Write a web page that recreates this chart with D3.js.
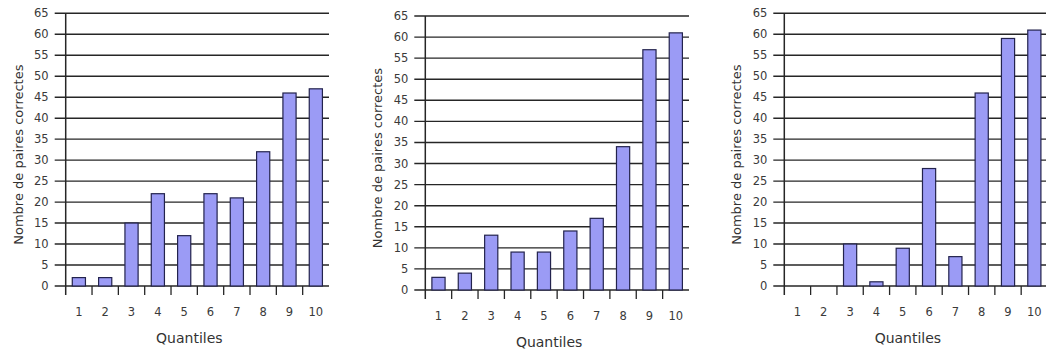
<!DOCTYPE html>
<html>
<head>
<meta charset="utf-8">
<script src="https://cdn.jsdelivr.net/npm/d3@7"></script>
<style>
  html, body { margin: 0; padding: 0; background: #fff; }
  svg { display: block; font-family: "DejaVu Sans", Verdana, sans-serif; }
</style>
</head>
<body>
<svg id="chart" width="1046" height="351"></svg>
<script>
// Quantile categories shared by the three panels
const quantiles = ["1", "2", "3", "4", "5", "6", "7", "8", "9", "10"];
// Number of correct pairs per quantile, one array per panel
const panelA = [2, 2, 15, 22, 12, 22, 21, 32, 46, 47];
const panelB = [3, 4, 13, 9, 9, 14, 17, 34, 57, 61];
const panelC = [0, 0, 10, 1, 9, 28, 7, 46, 59, 61];
// Y axis tick values
const yTicks = [0, 5, 10, 15, 20, 25, 30, 35, 40, 45, 50, 55, 60, 65];

const yLabel = "Nombre de paires correctes";
const xLabel = "Quantiles";

// Frame of each panel: y axis position, right end, top (65) and baseline (0)
const frames = [
  { values: panelA, x0: 65.7, x1: 329, top: 13.3, bottom: 286 },
  { values: panelB, x0: 425.3, x1: 689, top: 16, bottom: 290 },
  { values: panelC, x0: 784.3, x1: 1047.5, top: 13.3, bottom: 286 }
];

const svg = d3.select("#chart");
const gridColor = "#262626";
const barFill = "#9b9bf5";
const barStroke = "#23234d";

frames.forEach(f => {
  const g = svg.append("g");
  const x = d3.scaleBand().domain(quantiles).range([f.x0, f.x1]).paddingInner(0.5).paddingOuter(0.25);
  const xb = d3.scaleBand().domain(quantiles).range([f.x0, f.x1]);
  const y = d3.scaleLinear().domain([0, 65]).range([f.bottom, f.top]);

  // horizontal gridlines with a short stub left of the axis
  g.selectAll("line.grid").data(yTicks).join("line")
    .attr("class", "grid")
    .attr("x1", f.x0 - 11).attr("x2", f.x1)
    .attr("y1", d => y(d)).attr("y2", d => y(d))
    .attr("stroke", gridColor).attr("stroke-width", 1.4);

  // y tick labels
  g.selectAll("text.ytick").data(yTicks).join("text")
    .attr("class", "ytick")
    .attr("x", f.x0 - 17).attr("y", d => y(d))
    .attr("dy", "0.35em").attr("text-anchor", "end")
    .attr("font-size", 11.5).attr("fill", "#3a3a3a")
    .text(d => d);

  // bars
  g.selectAll("rect.bar").data(f.values).join("rect")
    .attr("class", "bar")
    .attr("x", (d, i) => x(quantiles[i]))
    .attr("width", x.bandwidth())
    .attr("y", d => y(d))
    .attr("height", d => f.bottom - y(d))
    .attr("fill", barFill).attr("stroke", barStroke).attr("stroke-width", 1.2);

  // vertical axis line
  g.append("line")
    .attr("x1", f.x0).attr("x2", f.x0)
    .attr("y1", y(65)).attr("y2", f.bottom + 9)
    .attr("stroke", gridColor).attr("stroke-width", 1.5);

  // category boundary ticks below the baseline
  g.selectAll("line.xtick").data(quantiles.slice(1)).join("line")
    .attr("class", "xtick")
    .attr("x1", d => xb(d)).attr("x2", d => xb(d))
    .attr("y1", f.bottom).attr("y2", f.bottom + 9)
    .attr("stroke", gridColor).attr("stroke-width", 1.3);

  // x tick labels
  g.selectAll("text.xtick").data(quantiles).join("text")
    .attr("class", "xtick")
    .attr("x", d => xb(d) + xb.bandwidth() / 2)
    .attr("y", f.bottom + 30)
    .attr("text-anchor", "middle")
    .attr("font-size", 11.5).attr("fill", "#3a3a3a")
    .text(d => d);

  // axis titles
  g.append("text")
    .attr("x", (f.x0 + f.x1) / 2 - 8)
    .attr("y", f.bottom + 57)
    .attr("text-anchor", "middle")
    .attr("font-size", 14).attr("fill", "#333")
    .text(xLabel);

  g.append("text")
    .attr("transform", `translate(${f.x0 - 43},${(f.top + f.bottom) / 2 + 5}) rotate(-90)`)
    .attr("text-anchor", "middle")
    .attr("font-size", 13).attr("fill", "#333")
    .text(yLabel);
});
</script>
</body>
</html>
